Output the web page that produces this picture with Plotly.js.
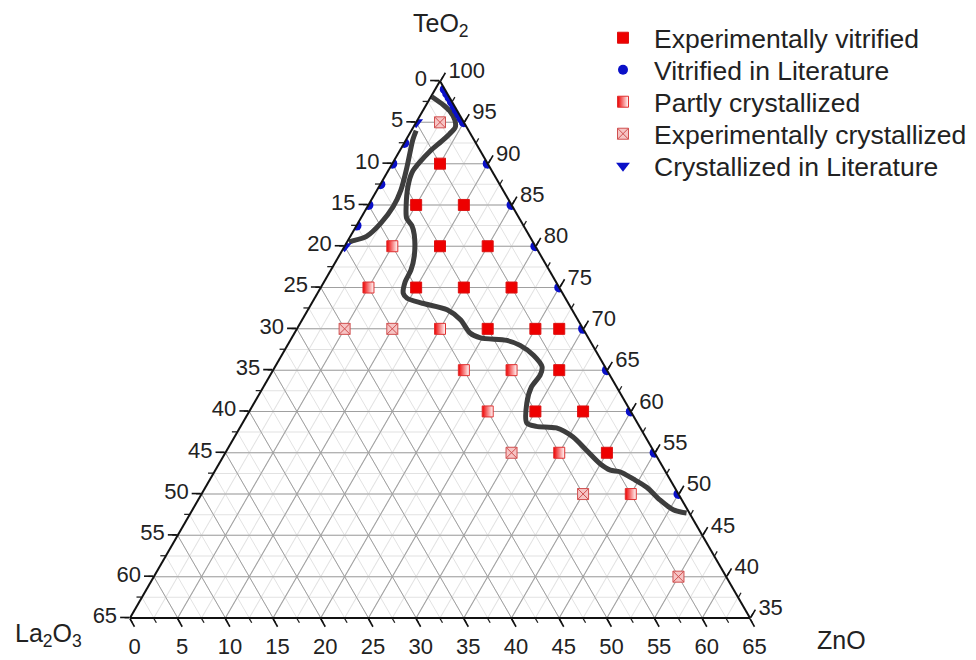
<!DOCTYPE html>
<html><head><meta charset="utf-8">
<script src="https://cdn.plot.ly/plotly-3.0.1.min.js"></script>
<style>html,body{margin:0;padding:0;background:#fff}#chart{width:976px;height:660px}</style>
</head><body><div id="chart"></div>
<script>
// ---- data (a = TeO2, b = La2O3, c = ZnO, mol%) ----
const vitTeO2 = [90,85,85,80,80,75,75,75,70,70,70,65,60,60,55];
const vitLa2O3 = [5,10,5,10,5,15,10,5,10,5,2.5,5,10,5,5];
const vitZnO = [5,5,10,10,15,10,15,20,20,25,27.5,30,30,35,40];

const litVitTeO2 = [99,98.5,98,97.5,97,96.5,96,95.5,95,90,85,80,75,70,65,60,55,50,92.5,90,87.5,85,82.5];
const litVitLa2O3 = [0,0,0,0,0,0,0,0,0,0,0,0,0,0,0,0,0,0,7.5,10,12.5,15,17.5];
const litVitZnO = [1,1.5,2,2.5,3,3.5,4,4.5,5,10,15,20,25,30,35,40,45,50,0,0,0,0,0];

const partTeO2 = [80,75,70,65,65,60,55,50];
const partLa2O3 = [15,20,15,15,10,15,10,5];
const partZnO = [5,5,15,20,25,25,35,45];

const crysTeO2 = [95,70,70,55,50,40];
const crysLa2O3 = [2.5,25,20,15,10,5];
const crysZnO = [2.5,5,10,30,40,55];

const litCrysTeO2 = [95,80];
const litCrysLa2O3 = [5,20];
const litCrysZnO = [0,0];

// glass-forming boundary, left branch (near TeO2-La2O3 edge)
const bndLTeO2 = [94.0,92.9,91.6,89.4,86.8,84.8,82.8,81.2,80.6,80.5];
const bndLLa2O3 = [5.5,6.4,7.3,8.8,10.7,12.5,14.8,17.1,19.0,19.3];
const bndLZnO = [0.5,0.7,1.1,1.8,2.5,2.7,2.4,1.7,0.4,0.2];

// glass-forming boundary, main branch
const bndMTeO2 = [98.1,97.1,96.4,95.3,94.4,93.6,92.7,91.5,90.2,89.0,87.3,84.9,83.4,82.5,81.4,78.8,77.1,75.7,74.3,73.7,73.1,72.3,71.1,69.5,68.9,68.6,68.0,66.8,65.4,64.4,63.0,61.0,58.6,58.2,58.0,56.9,55.3,53.7,52.9,52.7,51.8,50.8,49.3,48.1,47.7];
const bndMLa2O3 = [1.8,1.1,0.8,0.8,1.2,2.2,3.5,5.3,7.0,8.4,9.7,11.1,11.8,11.7,12.0,13.3,14.5,15.8,16.7,16.6,15.3,13.1,12.3,12.1,11.3,8.7,7.6,6.8,6.6,7.3,8.9,10.4,11.6,10.8,8.8,7.6,7.0,6.4,5.7,4.8,3.8,2.9,2.3,1.5,0.3];
const bndMZnO = [0.1,1.8,2.8,3.9,4.4,4.2,3.8,3.2,2.8,2.6,3.0,4.0,4.8,5.8,6.6,7.9,8.4,8.5,9.0,9.7,11.6,14.6,16.6,18.4,19.8,22.7,24.4,26.4,28.0,28.3,28.1,28.6,29.8,31.0,33.2,35.5,37.7,39.9,41.4,42.5,44.4,46.3,48.4,50.4,52.0];

// tick values and labels (labels follow the clockwise reading of the original)
const aTickVals = [35,40,45,50,55,60,65,70,75,80,85,90,95,100];
const aTickText = ['65','60','55','50','45','40','35','30','25','20','15','10','5','0'];   // La2O3 on left edge
const bTickVals = [0,5,10,15,20,25,30,35,40,45,50,55,60,65];
const bTickText = ['65','60','55','50','45','40','35','30','25','20','15','10','5','0'];   // ZnO on bottom edge
const cTickVals = [0,5,10,15,20,25,30,35,40,45,50,55,60,65];
const cTickText = ['100','95','90','85','80','75','70','65','60','55','50','45','40','35']; // TeO2 on right edge

const componentNames = ['TeO<sub>2</sub>', 'La<sub>2</sub>O<sub>3</sub>', 'ZnO'];
const seriesNames = ['Experimentally vitrified','Vitrified in Literature','Partly crystallized','Experimentally crystallized','Crystallized in Literature'];

const FONT = '"Liberation Sans", Arial, sans-serif';

const traces = [
  {type:'scatterternary', subplot:'ternary', a:[], b:[], c:[], showlegend:false, hoverinfo:'skip'},
  {type:'scatterternary', subplot:'ternary2', mode:'lines', a:bndLTeO2, b:bndLLa2O3, c:bndLZnO,
   line:{color:'#3d3d3d', width:5, shape:'spline', smoothing:0.8}, showlegend:false, hoverinfo:'skip'},
  {type:'scatterternary', subplot:'ternary2', mode:'lines', a:bndMTeO2, b:bndMLa2O3, c:bndMZnO,
   line:{color:'#3d3d3d', width:5, shape:'spline', smoothing:0.8}, showlegend:false, hoverinfo:'skip'},
  {type:'scatterternary', subplot:'ternary2', mode:'markers', name:seriesNames[0], legend:'legend',
   a:vitTeO2, b:vitLa2O3, c:vitZnO,
   marker:{symbol:'square', size:11, color:'#ee0000', line:{color:'#dd1111', width:1}}},
  {type:'scatterternary', subplot:'ternary2', mode:'markers', name:seriesNames[1], legend:'legend2',
   a:litVitTeO2, b:litVitLa2O3, c:litVitZnO,
   marker:{symbol:'circle', size:10, color:'#0a10c8', line:{width:0}}},
  {type:'scatterternary', subplot:'ternary2', mode:'markers', name:seriesNames[2], legend:'legend3',
   a:partTeO2, b:partLa2O3, c:partZnO,
   marker:{symbol:'square', size:11, color:'#ee0000', gradient:{type:'horizontal', color:'#ffffff'}, line:{color:'#e03030', width:1}}},
  {type:'scatterternary', subplot:'ternary2', mode:'markers', name:seriesNames[3], legend:'legend4',
   a:crysTeO2, b:crysLa2O3, c:crysZnO,
   marker:{symbol:'square-x', size:11, color:'#f6c4c4', line:{color:'#d05050', width:1}}},
  {type:'scatterternary', subplot:'ternary2', mode:'markers', name:seriesNames[4], legend:'legend5',
   a:litCrysTeO2, b:litCrysLa2O3, c:litCrysZnO,
   marker:{symbol:'triangle-down', size:12, color:'#0a10c8', line:{width:0}}}
];

const dom = {x:[130/976, 750/976], y:[42/660, 579/660]};
const minorAxis = (mn) => ({min:mn, dtick:2.5, tick0:0, showgrid:true, gridcolor:'#e2e2e2', gridwidth:1,
  ticks:'outside', ticklen:5, tickwidth:1.3, tickcolor:'#222', showticklabels:false, showline:false, title:{text:''}});
const majorAxis = (mn, vals, txt) => ({min:mn, tickmode:'array', tickvals:vals, ticktext:txt,
  ticks:'outside', ticklen:9, tickwidth:1.6, tickcolor:'#111', showline:true, linecolor:'#111', linewidth:2,
  showgrid:true, gridcolor:'#a0a0a0', gridwidth:1, tickfont:{size:22, color:'#222', family:FONT},
  title:{text:''}});

const legendRowsY = [38, 70, 102, 134, 166];
const mkLegend = (yPix) => ({x:592/976, y:1 - yPix/660, xanchor:'left', yanchor:'middle',
  bgcolor:'rgba(0,0,0,0)', font:{size:26.5, family:FONT, color:'#222'}, itemwidth:52});

const layout = {
  width:976, height:660, margin:{l:0, r:0, t:0, b:0},
  paper_bgcolor:'#ffffff', font:{family:FONT, size:20, color:'#222'},
  showlegend:true,
  legend:mkLegend(legendRowsY[0]),
  legend2:mkLegend(legendRowsY[1]),
  legend3:mkLegend(legendRowsY[2]),
  legend4:mkLegend(legendRowsY[3]),
  legend5:mkLegend(legendRowsY[4]),
  ternary:{domain:dom, sum:100, bgcolor:'#ffffff',
    aaxis:minorAxis(35), baxis:minorAxis(0), caxis:minorAxis(0)},
  ternary2:{domain:dom, sum:100, bgcolor:'rgba(0,0,0,0)',
    aaxis:majorAxis(35, aTickVals, aTickText),
    baxis:majorAxis(0, bTickVals, bTickText),
    caxis:majorAxis(0, cTickVals, cTickText)},
  annotations:[
    {text:componentNames[0], xref:'paper', yref:'paper', x:441/976, y:1-25/660, showarrow:false, xanchor:'center', yanchor:'middle', font:{size:25, family:FONT, color:'#222'}},
    {text:componentNames[1], xref:'paper', yref:'paper', x:48/976, y:1-635/660, showarrow:false, xanchor:'center', yanchor:'middle', font:{size:25, family:FONT, color:'#222'}},
    {text:componentNames[2], xref:'paper', yref:'paper', x:841/976, y:1-640/660, showarrow:false, xanchor:'center', yanchor:'middle', font:{size:25, family:FONT, color:'#222'}}
  ]
};

Plotly.newPlot('chart', traces, layout, {displayModeBar:false, staticPlot:true});
</script></body></html>
